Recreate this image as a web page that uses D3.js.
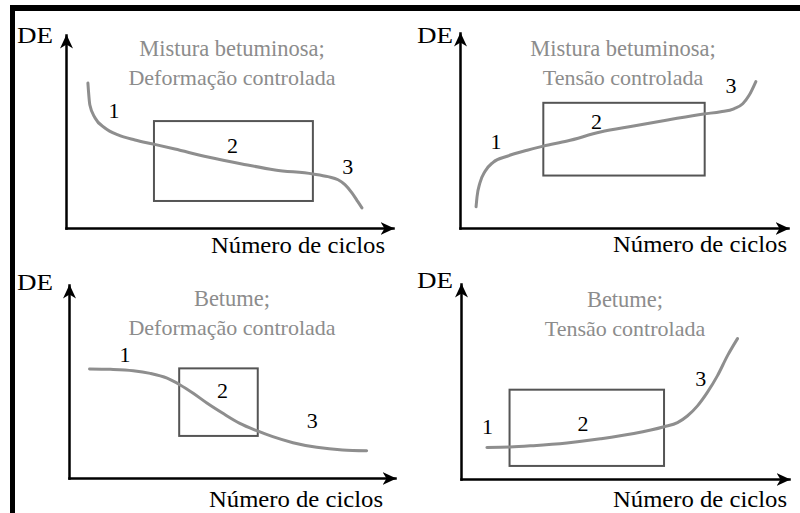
<!DOCTYPE html>
<html>
<head>
<meta charset="utf-8">
<script src="https://cdn.jsdelivr.net/npm/d3@7"></script>
<style>
  html, body { margin: 0; padding: 0; background: #fff; }
  svg { display: block; }
</style>
</head>
<body>
<svg id="chart" width="800" height="513"></svg>
<script>
// Axis labels shared by the four schematic plots
const yLabel = "DE";
const xLabel = "Número de ciclos";

// Two-line title of each plot
const titles = [
  ["Mistura betuminosa;", "Deformação controlada"],
  ["Mistura betuminosa;", "Tensão controlada"],
  ["Betume;", "Deformação controlada"],
  ["Betume;", "Tensão controlada"]
];

// Phase names written along each curve
const phaseNames = ["1", "2", "3"];

// DE evolution curves, [cycles, DE] in relative units (0–100)
const curveMisturaDeformacao = [
  [6.7, 75.1], [7.3, 63.7], [8.9, 57.0], [11.9, 51.8], [15.9, 48.2], [21.1, 45.6],
  [26.6, 43.5], [33.3, 40.9], [43.4, 36.8], [53.8, 33.2], [63.9, 30.1], [75.5, 28.0],
  [80.1, 26.6], [83.2, 25.0], [85.3, 22.5], [87.5, 18.1], [89.3, 13.5], [90.5, 10.4]
];
const curveMisturaTensao = [
  [4.9, 10.9], [5.2, 16.1], [6.1, 23.3], [7.6, 29.0], [10.1, 33.7], [14.4, 36.8],
  [20.5, 39.9], [25.4, 42.0], [32.7, 44.6], [42.8, 49.2], [52.9, 52.3], [63.3, 55.4],
  [74.3, 58.5], [79.5, 59.6], [83.5, 61.1], [86.2, 63.7], [88.1, 67.9], [90.2, 75.1]
];
const curveBetumeDeformacao = [
  [6.3, 56.5], [12.7, 56.3], [19.7, 55.6], [24.9, 54.2], [30.1, 51.7], [34.1, 48.2],
  [38.1, 43.9], [42.4, 38.7], [47.2, 33.5], [52.4, 28.3], [57.6, 24.5], [62.5, 21.4],
  [68.7, 18.3], [76.0, 15.9], [83.9, 14.5], [91.3, 14.1]
];
const curveBetumeTensao = [
  [7.9, 16.2], [15.0, 16.4], [22.1, 17.1], [32.3, 18.5], [42.5, 20.6], [52.7, 23.3],
  [61.9, 26.8], [66.0, 28.9], [69.0, 32.3], [72.1, 37.5], [75.1, 44.4], [78.2, 53.0],
  [81.3, 63.4], [84.3, 72.0]
];

// Phase-2 window of each plot: [cycles from, cycles to, DE from, DE to]
const zoneMisturaDeformacao = [26.9, 75.5, 14.0, 55.4];
const zoneMisturaTensao     = [25.4, 74.6, 26.9, 64.2];
const zoneBetumeDeformacao  = [33.8, 57.9, 21.8, 56.8];
const zoneBetumeTensao      = [14.8, 61.9, 6.7, 45.8];

// Where the phase numbers sit, [cycles, DE] per phase
const phasesMisturaDeformacao = [[14.7, 57.0], [50.9, 38.9], [86.2, 28.0]];
const phasesMisturaTensao     = [[11.0, 40.4], [41.6, 50.8], [82.6, 69.4]];
const phasesBetumeDeformacao  = [[17.2, 59.9], [47.1, 41.3], [74.6, 25.8]];
const phasesBetumeTensao      = [[8.1, 23.3], [37.2, 24.5], [73.1, 47.5]];

// Layout of the 2x2 grid: axis origin, axis lengths, label anchors
const panels = [
  { ox: 66,  oy: 228, w: 327, h: 193, deX: 53,  deY: 43,  nX: 385, nY: 253, tX: 232, curve: curveMisturaDeformacao, zone: zoneMisturaDeformacao, phases: phasesMisturaDeformacao },
  { ox: 460, oy: 228, w: 328, h: 195, deX: 453, deY: 43,  nX: 787, nY: 252, tX: 623, curve: curveMisturaTensao,     zone: zoneMisturaTensao,     phases: phasesMisturaTensao },
  { ox: 69,  oy: 478, w: 326, h: 193, deX: 53,  deY: 290, nX: 383, nY: 507, tX: 232, curve: curveBetumeDeformacao,  zone: zoneBetumeDeformacao,  phases: phasesBetumeDeformacao },
  { ox: 461, oy: 479, w: 328, h: 195, deX: 453, deY: 288, nX: 787, nY: 507, tX: 625, curve: curveBetumeTensao,      zone: zoneBetumeTensao,      phases: phasesBetumeTensao }
];

const serif = '"Liberation Serif"';

const svg = d3.select("#chart");

const defs = svg.append("defs");
defs.append("marker")
  .attr("id", "arrow")
  .attr("viewBox", "0 0 14 14")
  .attr("refX", 13).attr("refY", 7)
  .attr("markerWidth", 14).attr("markerHeight", 14)
  .attr("markerUnits", "userSpaceOnUse")
  .attr("orient", "auto")
  .append("path")
  .attr("d", "M0,0.5 L14,7 L0,13.5 L4,7 Z")
  .attr("fill", "#000");
defs.append("filter")
  .attr("id", "soft")
  .append("feGaussianBlur")
  .attr("stdDeviation", 0.6);

// Frame: heavy rules along the top and left edges
svg.append("rect").attr("x", 10).attr("y", 5).attr("width", 790).attr("height", 6).attr("fill", "#000");
svg.append("rect").attr("x", 10).attr("y", 5).attr("width", 5).attr("height", 508).attr("fill", "#000");

panels.forEach((p, i) => {
  const x = d3.scaleLinear().domain([0, 100]).range([p.ox, p.ox + p.w]);
  const y = d3.scaleLinear().domain([0, 100]).range([p.oy, p.oy - p.h]);
  const g = svg.append("g");

  // Phase-2 window
  const [zx0, zx1, zy0, zy1] = p.zone;
  g.append("rect")
    .attr("x", x(zx0)).attr("y", y(zy1))
    .attr("width", x(zx1) - x(zx0)).attr("height", y(zy0) - y(zy1))
    .attr("fill", "none").attr("stroke", "#555").attr("stroke-width", 2);

  // DE curve
  g.append("path")
    .datum(p.curve)
    .attr("d", d3.line().x(d => x(d[0])).y(d => y(d[1])).curve(d3.curveMonotoneX))
    .attr("fill", "none").attr("stroke", "#8e8e8e").attr("stroke-width", 3)
    .attr("stroke-linecap", "round")
    .attr("filter", "url(#soft)");

  // Axes without ticks, ending in arrowheads
  const ax = g.append("g").attr("transform", `translate(0,${p.oy})`)
    .call(d3.axisBottom(x).ticks(0).tickSizeOuter(0));
  const ay = g.append("g").attr("transform", `translate(${p.ox},0)`)
    .call(d3.axisLeft(y).ticks(0).tickSizeOuter(0));
  [ax, ay].forEach(a => {
    a.select(".domain")
      .attr("stroke", "#000").attr("stroke-width", 2.5)
      .attr("stroke-linecap", "square")
      .attr("marker-end", "url(#arrow)");
  });

  // Phase numbers
  g.selectAll("text.phase").data(p.phases).join("text")
    .attr("class", "phase")
    .attr("x", d => x(d[0])).attr("y", d => y(d[1]))
    .attr("text-anchor", "middle")
    .style("font-family", serif)
    .attr("font-size", 22).attr("fill", "#000")
    .text((d, k) => phaseNames[k]);

  // Title
  titles[i].forEach((line, k) => {
    g.append("text")
      .attr("x", p.tX).attr("y", p.oy - 172 + k * 29)
      .attr("text-anchor", "middle")
      .style("font-family", serif)
      .attr("font-size", k === 0 ? 22.5 : 22).attr("fill", "#8c8c8c")
      .text(line);
  });

  // Axis names
  g.append("text")
    .attr("x", p.deX).attr("y", p.deY)
    .attr("text-anchor", "end")
    .style("font-family", serif)
    .attr("font-size", 24).attr("fill", "#000")
    .attr("textLength", 36).attr("lengthAdjust", "spacingAndGlyphs")
    .text(yLabel);
  g.append("text")
    .attr("x", p.nX).attr("y", p.nY)
    .attr("text-anchor", "end")
    .style("font-family", serif)
    .attr("font-size", 24).attr("fill", "#000")
    .attr("textLength", 174).attr("lengthAdjust", "spacingAndGlyphs")
    .text(xLabel);
});
</script>
</body>
</html>
